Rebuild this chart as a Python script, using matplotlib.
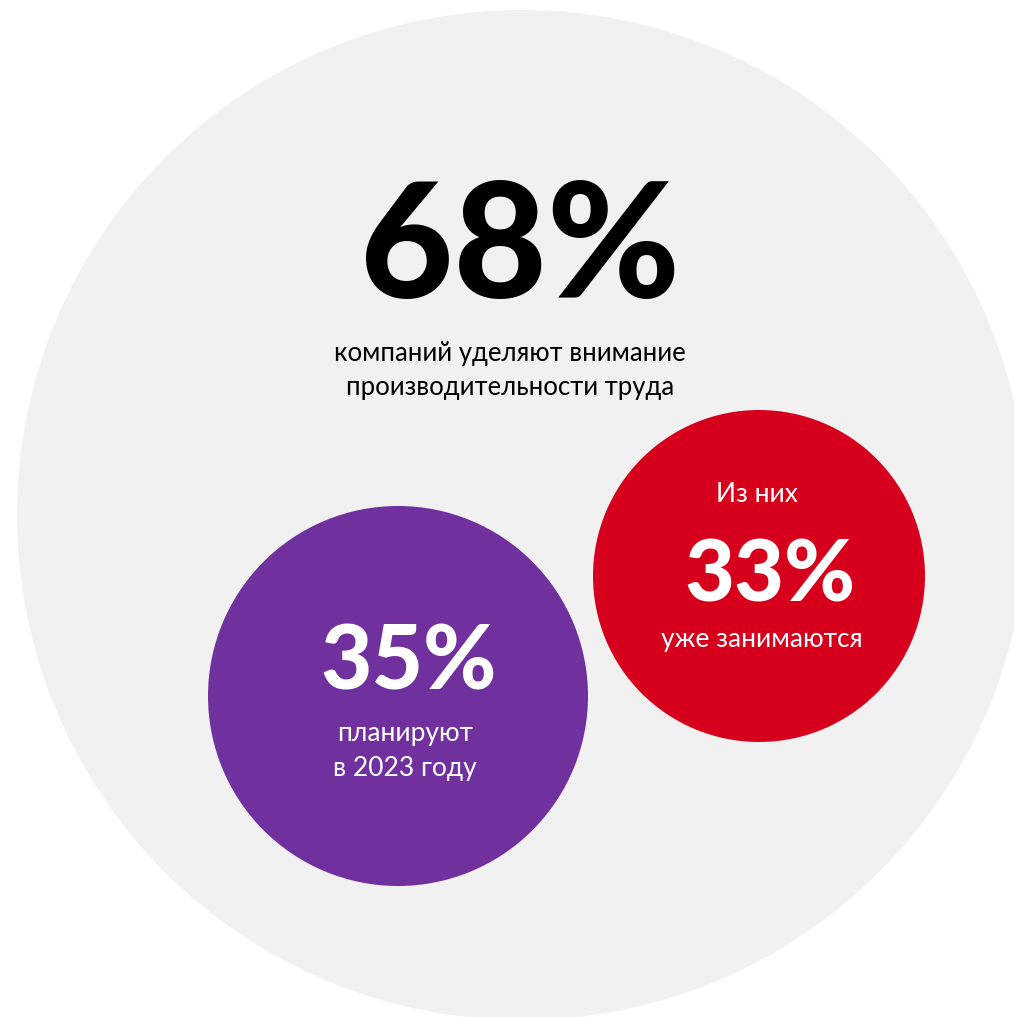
import matplotlib
matplotlib.use("Agg")
import matplotlib.pyplot as plt
from matplotlib.patches import Circle

plt.rcParams['font.family'] = ['Lato', 'Open Sans', 'DejaVu Sans']

# shares of companies
labels = ['68%', '35%', '33%']
values = [68, 35, 33]
captions = [
    'компаний уделяют внимание\nпроизводительности труда',
    'планируют\nв 2023 году',
    'уже занимаются',
]
lead_in = ['', '', 'Из них']

colors = ['#f1f1f1', '#70309d', '#d6001c']
text_colors = ['black', 'white', 'white']

# circle layout in pixel coordinates (x, y, radius)
centers = [(522, 515), (398, 696), (759, 576)]
radii = [505, 190, 166]

fig = plt.figure(figsize=(10.14, 10.17), dpi=100)
ax = fig.add_axes([0, 0, 1, 1])
ax.set_xlim(0, 1014)
ax.set_ylim(1017, 0)
ax.set_aspect('equal')
ax.axis('off')

for (cx, cy), r, c in zip(centers, radii, colors):
    ax.add_patch(Circle((cx, cy), r, facecolor=c, edgecolor='none'))

# big headline
ax.text(520, 298, f'{values[0]}%', ha='center', va='baseline', fontsize=116,
        fontweight='black', color=text_colors[0])
ax.text(510, 370, captions[0], ha='center', va='center', fontsize=18.5,
        color=text_colors[0], linespacing=1.45)

# purple bubble
ax.text(409, 689, f'{values[1]}%', ha='center', va='baseline', fontsize=64,
        fontweight='black', color=text_colors[1])
ax.text(405, 751, captions[1], ha='center', va='center', fontsize=19,
        color=text_colors[1], linespacing=1.5)

# red bubble
ax.text(757, 495, lead_in[2], ha='center', va='center', fontsize=19,
        color=text_colors[2])
ax.text(770, 602, f'{values[2]}%', ha='center', va='baseline', fontsize=62,
        fontweight='black', color=text_colors[2])
ax.text(762, 640, captions[2], ha='center', va='center', fontsize=19,
        color=text_colors[2])

fig.savefig('out.png', dpi=100, facecolor='white')
